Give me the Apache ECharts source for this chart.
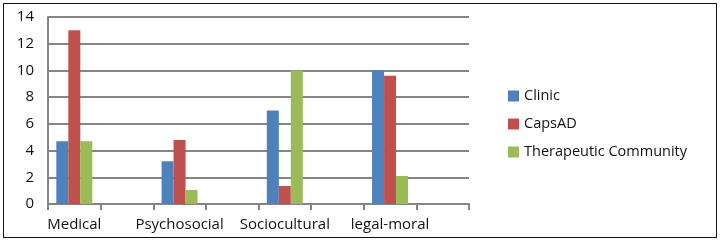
<!DOCTYPE html>
<html>
<head>
<meta charset="utf-8">
<script src="https://cdn.jsdelivr.net/npm/echarts@6/dist/echarts.min.js"></script>
<style>
  html, body { margin: 0; padding: 0; background: #fff; }
  #frame { position: absolute; left: 3px; top: 3px; width: 712px; height: 233px; border: 1.5px solid #111; }
  #chart { position: absolute; left: 0; top: 0; width: 722px; height: 244px; }
</style>
</head>
<body>
<div id="frame"></div>
<div id="chart"></div>
<script>
  // categories (empty slots keep the gaps between groups, like the original)
  var categories = ['Medical', '', 'Psychosocial', '', 'Sociocultural', '', 'legal-moral', ''];
  var clinic = [4.7, null, 3.2, null, 7.0, null, 10.0, null];
  var capsAD = [13.0, null, 4.8, null, 1.35, null, 9.6, null];
  var therapeutic = [4.7, null, 1.05, null, 10.0, null, 2.1, null];
  var yTicks = [0, 2, 4, 6, 8, 10, 12, 14];

  var font = '"Open Sans", "Noto Sans", sans-serif';
  var chart = echarts.init(document.getElementById('chart'), null, { renderer: 'canvas' });

  function bar (name, data, color) {
    return {
      name: name,
      type: 'bar',
      data: data,
      barWidth: 12,
      barGap: '0%',
      itemStyle: { color: color },
      animation: false
    };
  }

  var option = {
    animation: false,
    grid: { left: 48, right: 253, top: 17, bottom: 40, containLabel: false },
    legend: {
      orient: 'vertical',
      left: 503,
      top: 83,
      itemWidth: 11,
      itemHeight: 11,
      itemGap: 12,
      icon: 'rect',
      textStyle: { fontFamily: font, fontSize: 14.5, color: '#111', lineHeight: 16 },
      data: ['Clinic', 'CapsAD', 'Therapeutic Community']
    },
    xAxis: {
      type: 'category',
      data: categories,
      boundaryGap: true,
      axisLine: { show: true, lineStyle: { color: '#858585', width: 2 } },
      axisTick: { show: true, alignWithLabel: false, length: 6, lineStyle: { color: '#858585', width: 2 } },
      axisLabel: { interval: 0, margin: 13, fontFamily: font, fontSize: 15, color: '#111' }
    },
    yAxis: {
      type: 'value',
      min: yTicks[0],
      max: yTicks[yTicks.length - 1],
      interval: 2,
      axisLine: { show: true, lineStyle: { color: '#858585', width: 2 } },
      axisTick: { show: false },
      splitLine: { lineStyle: { color: '#858585', width: 2 } },
      axisLabel: { margin: 14, fontFamily: font, fontSize: 15, color: '#111' }
    },
    series: [
      bar('Clinic', clinic, '#4F81BD'),
      bar('CapsAD', capsAD, '#C0504D'),
      bar('Therapeutic Community', therapeutic, '#9BBB59')
    ]
  };
  chart.setOption(option);
</script>
</body>
</html>
